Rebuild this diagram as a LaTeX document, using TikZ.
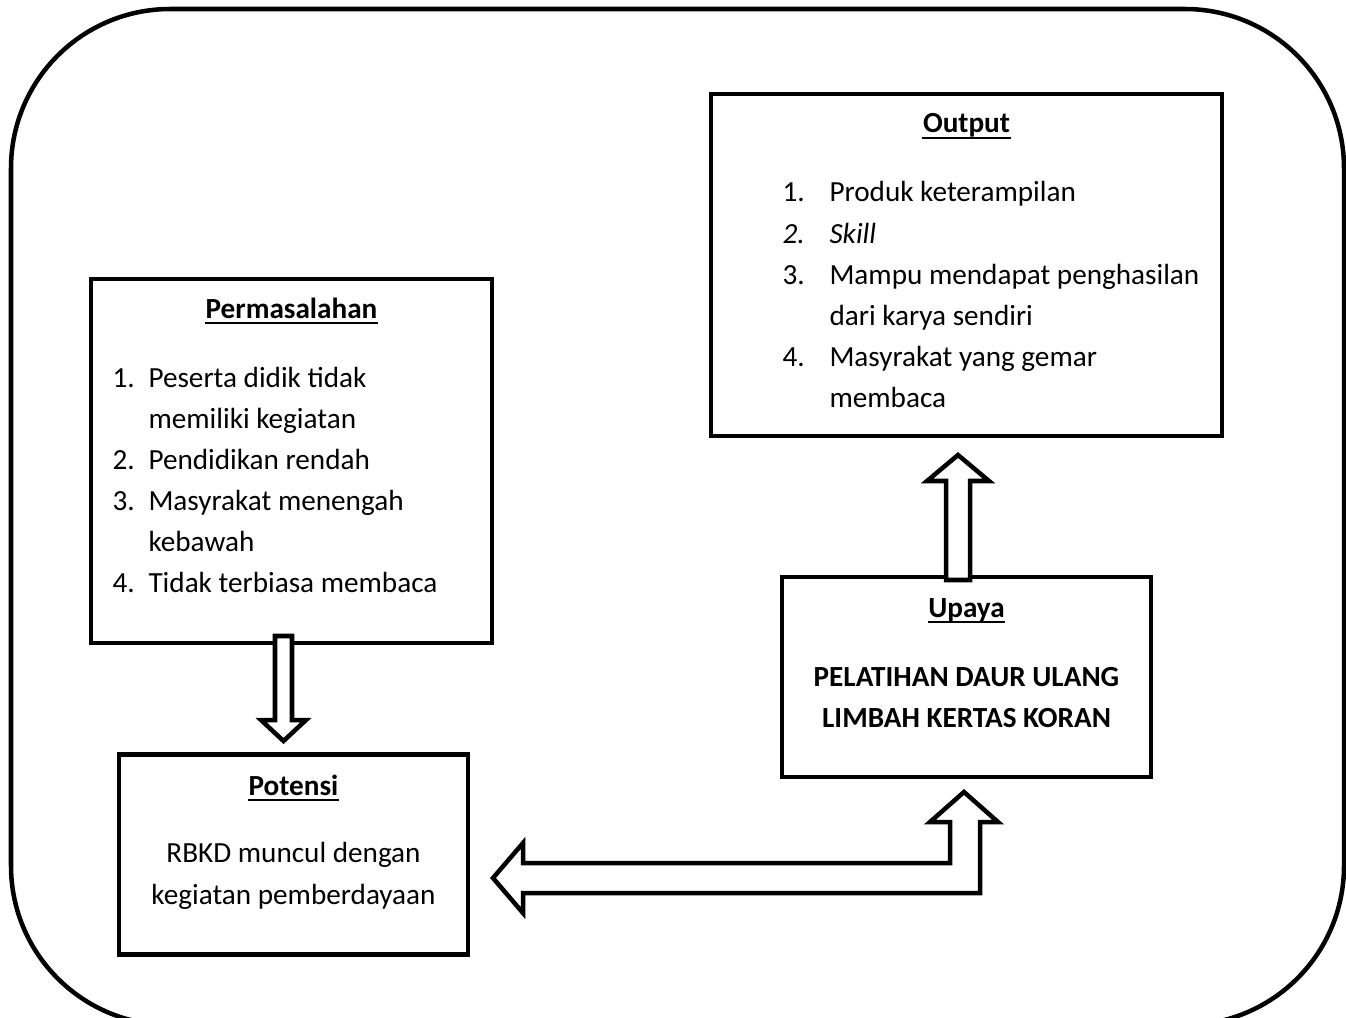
\documentclass[tikz,border=0pt]{standalone}
\usepackage{fontspec}
\setmainfont{Carlito}
\def\pxu{0.01325cm}
\begin{document}
\begin{tikzpicture}[x=0.01325cm,y=-0.01325cm,
	kotak/.style={draw=black, line width=1.7pt, inner sep=0pt},
	panah/.style={draw=black, fill=white, line width=1.7pt, line join=miter},
	garis/.style={line width=0.8pt},
	teks/.style={inner sep=0pt, anchor=base west, font=\fontsize{11pt}{13pt}\selectfont},
	tengah/.style={inner sep=0pt, anchor=base, font=\fontsize{11pt}{13pt}\selectfont},
	judul/.style={inner sep=0pt, anchor=base, font=\fontsize{11pt}{13pt}\selectfont\bfseries}]
			\useasboundingbox (0,0) rectangle (1346,1018);
			
			% FRAME
			\draw[line width=1.7pt, rounded corners=60pt] (11,9) rectangle (1344,1025);
			
			% BOXES
			\node[kotak, minimum width=401*\pxu, minimum height=364*\pxu] (masalah) at (291.5,461) {};
			\node[kotak, minimum width=511*\pxu, minimum height=342*\pxu] (output) at (966.5,265) {};
			\node[kotak, minimum width=349*\pxu, minimum height=200*\pxu] (potensi) at (293.5,854.5) {};
			\node[kotak, minimum width=369*\pxu, minimum height=200*\pxu] (upaya) at (966.5,677) {};
			
			% DRAW ARROWS
			\draw[panah] (275,636)--(292,636)--(292,720)--(306,720)--(283.5,741)--(261,720)--(275,720)--cycle; % masalah -> potensi
			\draw[panah] (946,580)--(946,481)--(927,481)--(958,455)--(989,481)--(970,481)--(970,580)--cycle; % upaya -> output
			\draw[panah] (493,878)--(523,843)--(523,863)--(950,863)--(950,822)--(930,822)--(964,792)--(998,822)--(980,822)--(980,893)--(523,893)--(523,913)--cycle; % potensi <-> upaya
			
			% PERMASALAHAN
			\node[judul] (jmasalah) at (291.5,318) {Permasalahan};
			\draw[garis] ([yshift=-2pt]jmasalah.base west)--([yshift=-2pt]jmasalah.base east);
			\foreach \no/\isi [count=\i from 0] in {1./Peserta didik tidak, /memiliki kegiatan, 2./Pendidikan rendah, 3./Masyrakat menengah, /kebawah, 4./Tidak terbiasa membaca} {
				\node[teks] (mno\i) at (112,387+41*\i) {\no};
				\node[teks] (m\i) at (148,387+41*\i) {\isi};
			}
			
			% OUTPUT
			\node[judul] (joutput) at (966.5,133) {Output};
			\draw[garis] ([yshift=-2pt]joutput.base west)--([yshift=-2pt]joutput.base east);
			\foreach \no/\isi [count=\i from 0] in {1./Produk keterampilan, {\textit{2.}}/{\textit{Skill}}, 3./Mampu mendapat penghasilan, /dari karya sendiri, 4./Masyrakat yang gemar, /membaca} {
				\node[teks] (ono\i) at (782,202+41*\i) {\no};
				\node[teks] (o\i) at (829,202+41*\i) {\isi};
			}
			
			% POTENSI
			\node[judul] (jpotensi) at (293.5,795) {Potensi};
			\draw[garis] ([yshift=-2pt]jpotensi.base west)--([yshift=-2pt]jpotensi.base east);
			\node[tengah] (p0) at (293.5,862) {RBKD muncul dengan};
			\node[tengah] (p1) at (293.5,904) {kegiatan pemberdayaan};
			
			% UPAYA
			\node[judul] (jupaya) at (966.5,617) {Upaya};
			\draw[garis] ([yshift=-2pt]jupaya.base west)--([yshift=-2pt]jupaya.base east);
			\node[judul] (u0) at (966.5,686) {PELATIHAN DAUR ULANG};
			\node[judul] (u1) at (966.5,727) {LIMBAH KERTAS KORAN};
		\end{tikzpicture}
\end{document}
